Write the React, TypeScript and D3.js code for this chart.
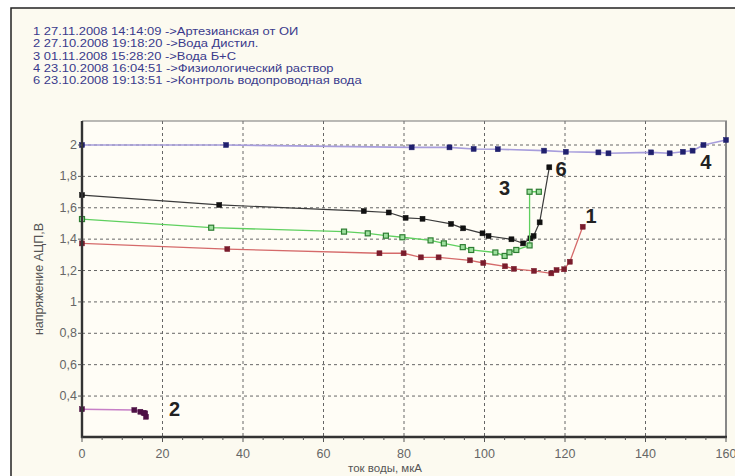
import React from "react";
import * as d3 from "d3";

type Pt = [number, number];

const legendLines = [
  "1 27.11.2008 14:14:09 ->Артезианская от ОИ",
  "2 27.10.2008 19:18:20 ->Вода Дистил.",
  "3 01.11.2008 15:28:20 ->Вода Б+С",
  "4 23.10.2008 16:04:51 ->Физиологический раствор",
  "6 23.10.2008 19:13:51 ->Контроль водопроводная вода",
];

const xTicks = [0, 20, 40, 60, 80, 100, 120, 140, 160];
const yTicks = [0.4, 0.6, 0.8, 1, 1.2, 1.4, 1.6, 1.8, 2];
const yTickLabels = ["0,4", "0,6", "0,8", "1", "1,2", "1,4", "1,6", "1,8", "2"];

const series1: Pt[] = [
  [0, 1.373], [36.1, 1.337], [73.9, 1.31], [79.9, 1.31], [84.2, 1.284], [88.6, 1.284],
  [96.4, 1.265], [99.7, 1.248], [105.1, 1.227], [107.3, 1.211], [112.3, 1.198],
  [116.6, 1.182], [117.9, 1.203], [119.8, 1.208], [121.2, 1.256], [124.4, 1.479],
];
const series2: Pt[] = [
  [0, 0.316], [13.0, 0.311], [14.5, 0.3], [15.3, 0.293], [15.7, 0.29], [15.9, 0.268],
];
const series3: Pt[] = [
  [0, 1.528], [32.1, 1.473], [65.1, 1.448], [71, 1.437], [75.5, 1.422], [79.6, 1.412],
  [86.6, 1.392], [89.9, 1.373], [94.6, 1.349], [96.7, 1.331], [102.7, 1.315],
  [105, 1.293], [106.2, 1.316], [107.9, 1.331], [111.2, 1.36], [111.2, 1.702], [113.5, 1.702],
];
const series4: Pt[] = [
  [0, 2.0], [35.8, 2.0], [81.9, 1.985], [91.3, 1.985], [97.3, 1.975], [103.3, 1.973],
  [114.8, 1.964], [120.2, 1.957], [128.3, 1.953], [130.8, 1.947], [141.4, 1.953],
  [146, 1.947], [149.3, 1.957], [151.7, 1.964], [154.4, 2.0], [160, 2.032],
];
const series6: Pt[] = [
  [0, 1.681], [34.1, 1.618], [70, 1.579], [76.2, 1.57], [80.4, 1.536], [84.6, 1.53],
  [91.7, 1.497], [94.7, 1.469], [99.5, 1.437], [101, 1.42], [106.7, 1.399],
  [109.6, 1.373], [111.4, 1.405], [112.2, 1.42], [113.7, 1.507], [116.1, 1.858],
];

const seriesLabels = [
  { text: "1", x: 126.5, y: 1.5 },
  { text: "2", x: 23, y: 0.27 },
  { text: "3", x: 105, y: 1.68 },
  { text: "6", x: 119, y: 1.8 },
  { text: "4", x: 155, y: 1.85 },
];

const W = 735;
const H = 476;
const x = d3.scaleLinear().domain([0, 160]).range([82, 726]);
const y = d3.scaleLinear().domain([0.139, 2.153]).range([437, 121]);
const line = d3.line<Pt>().x((d) => x(d[0])).y((d) => y(d[1]));

const styles = [
  { data: series4, line: "#a79ddc", marker: "#20206e", hollow: false, width: 1.6 },
  { data: series6, line: "#3a3a3a", marker: "#111111", hollow: false, width: 1.2 },
  { data: series3, line: "#5fd05f", marker: "#2e7d32", hollow: true, width: 1.3 },
  { data: series1, line: "#d56a6a", marker: "#7a1c2c", hollow: false, width: 1.3 },
  { data: series2, line: "#c77fc7", marker: "#4d1044", hollow: false, width: 1.5 },
];

const minorX = d3.range(0, 161, 5);

export default function App() {
  const font = "'Liberation Sans', Arial, sans-serif";
  return (
    <svg width={W} height={H} style={{ position: "absolute", left: 0, top: 0 }}>
      <rect x={0} y={0} width={W} height={H} fill="#ffffff" />
      <rect x={11} y={8} width={W + 20} height={H + 20} fill="#fcfaf0" stroke="#222" strokeWidth={1.5} />
      <g transform="translate(33,0) scale(1.22,1)">
        {legendLines.map((t, i) => (
          <text key={i} x={0} y={35 + i * 12.3} fontFamily={font} fontSize={10.6} fill="#3a3a8c">
            {t}
          </text>
        ))}
      </g>
      <rect x={82} y={121} width={644} height={316} fill="#fffdf6" />
      {/* grid */}
      {xTicks.slice(1, -1).map((t) => (
        <line key={"gx" + t} x1={x(t)} x2={x(t)} y1={121} y2={437} stroke="#666" strokeWidth={1} strokeDasharray="3,3" />
      ))}
      {yTicks.map((t) => (
        <line key={"gy" + t} x1={82} x2={726} y1={y(t)} y2={y(t)} stroke="#666" strokeWidth={1} strokeDasharray="3,3" />
      ))}
      {/* frame */}
      <line x1={82} x2={727} y1={121} y2={121} stroke="#777" strokeWidth={1} />
      <line x1={726} x2={726} y1={121} y2={437} stroke="#888" strokeWidth={2} />
      {/* series */}
      {styles.map((s, i) => (
        <g key={i}>
          <path d={line(s.data) || ""} fill="none" stroke={s.line} strokeWidth={s.width} />
          {s.data.map((d, j) => (
            <rect
              key={j}
              x={x(d[0]) - 2.5}
              y={y(d[1]) - 2.5}
              width={5}
              height={5}
              fill={s.hollow ? "#9ee09e" : s.marker}
              stroke={s.marker}
              strokeWidth={s.hollow ? 1.2 : 0.5}
            />
          ))}
        </g>
      ))}
      {/* axes */}
      <line x1={82} x2={82} y1={121} y2={438} stroke="#333" strokeWidth={2.4} />
      <line x1={81} x2={727} y1={437} y2={437} stroke="#333" strokeWidth={2.4} />
      {minorX.map((t) => (
        <line key={"mx" + t} x1={x(t)} x2={x(t)} y1={437} y2={t % 20 === 0 ? 442 : 440} stroke="#555" strokeWidth={1} />
      ))}
      {yTicks.map((t) => (
        <line key={"ty" + t} x1={78} x2={82} y1={y(t)} y2={y(t)} stroke="#555" strokeWidth={1} />
      ))}
      {xTicks.map((t) => (
        <text key={"xl" + t} x={x(t)} y={458} textAnchor="middle" fontFamily={font} fontSize={12.5} fill="#666">
          {t}
        </text>
      ))}
      {yTicks.map((t, i) => (
        <text key={"yl" + t} x={77} y={y(t) + 4} textAnchor="end" fontFamily={font} fontSize={12.5} fill="#666">
          {yTickLabels[i]}
        </text>
      ))}
      <text
        transform={`translate(43,${279}) rotate(-90)`}
        textAnchor="middle"
        fontFamily={font}
        fontSize={12.5}
        fill="#555"
      >
        напряжение АЦП,В
      </text>
      <text x={385} y={472} textAnchor="middle" fontFamily={font} fontSize={11.5} fill="#555">
        ток воды, мкА
      </text>
      {seriesLabels.map((l) => (
        <text key={l.text} x={x(l.x)} y={y(l.y)} textAnchor="middle" fontFamily={font} fontSize={20} fontWeight="bold" fill="#222">
          {l.text}
        </text>
      ))}
    </svg>
  );
}
